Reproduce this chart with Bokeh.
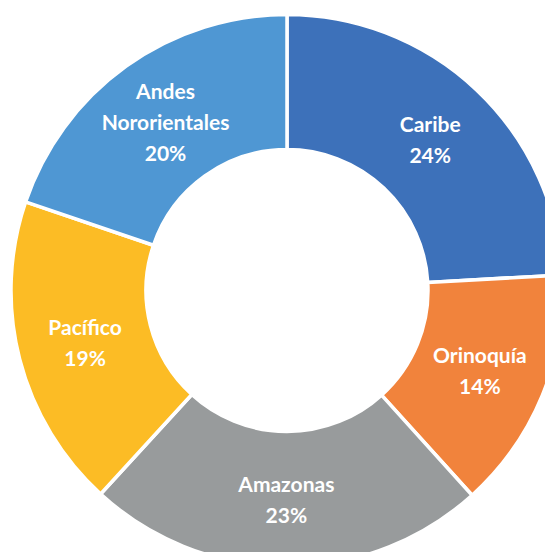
import math
from bokeh.plotting import figure
from bokeh.models import ColumnDataSource, Range1d
from bokeh.core.properties import value
from bokeh.embed import file_html
from bokeh.resources import INLINE

# ---- data ----
regions = ["Caribe", "Orinoquía", "Amazonas", "Pacífico", "Andes\nNororientales"]
shares = [24.1, 14.2, 23.5, 18.4, 19.8]
pct_labels = ["24%", "14%", "23%", "19%", "20%"]
colors = ["#3D71BA", "#F1833C", "#989B9C", "#FCBC25", "#4F97D3"]

# ---- layout ----
W, H = 545, 552
cx, cy = 286.5, H - 290.0
R_OUT, R_IN = 276.0, 141.0
LINE_PITCH = 31

total = sum(shares)
starts, ends, mids = [], [], []
cum = 0.0
for s in shares:
    a0 = math.pi / 2 - 2 * math.pi * cum / total
    cum += s
    a1 = math.pi / 2 - 2 * math.pi * cum / total
    starts.append(a0)
    ends.append(a1)
    mids.append((a0 + a1) / 2)

wedges = ColumnDataSource(dict(start=starts, end=ends, color=colors,
                               x=[cx] * len(shares), y=[cy] * len(shares)))

p = figure(width=W, height=H, output_backend="svg", toolbar_location=None,
           x_range=Range1d(0, W), y_range=Range1d(0, H),
           x_axis_location=None, y_axis_location=None, min_border=0,
           background_fill_color="white", border_fill_color="white")
p.outline_line_color = None
p.xgrid.visible = False
p.ygrid.visible = False

p.annular_wedge(x="x", y="y", inner_radius=R_IN, outer_radius=R_OUT,
                start_angle="start", end_angle="end", direction="clock",
                fill_color="color", line_color="white", line_width=3.5,
                source=wedges)

# labels: one row per text line, centred on the ring's mid radius
lx, ly, lt, lo = [], [], [], []
rm = (R_OUT + R_IN) / 2
for name, pct, m in zip(regions, pct_labels, mids):
    lines = name.split("\n") + [pct]
    n = len(lines)
    x0 = cx + rm * math.cos(m)
    y0 = cy + rm * math.sin(m)
    for i, t in enumerate(lines):
        lx.append(x0)
        ly.append(y0)
        lt.append(t)
        lo.append((i - (n - 1) / 2) * LINE_PITCH)

labels = ColumnDataSource(dict(x=lx, y=ly, text=lt, off=lo))
p.text(x="x", y="y", text="text", y_offset="off", source=labels,
       text_font=value("Lato"), text_font_style="bold", text_font_size="21px",
       text_color="white", text_align="center", text_baseline="middle")

open("out.html", "w").write(file_html(p, INLINE))
